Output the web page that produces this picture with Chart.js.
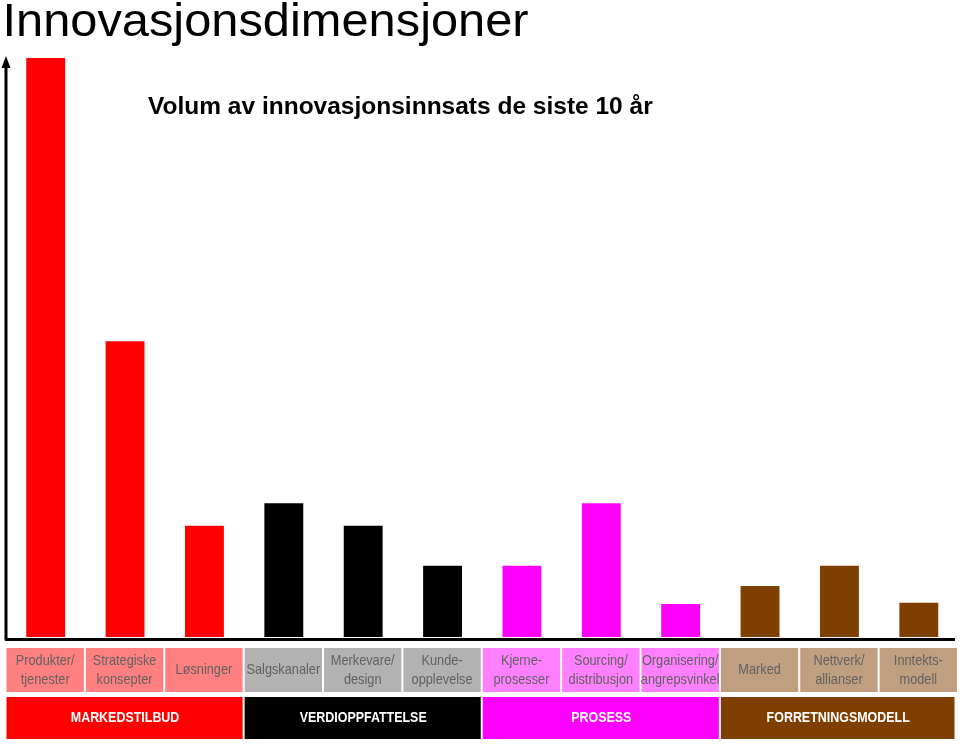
<!DOCTYPE html>
<html>
<head>
<meta charset="utf-8">
<script src="https://cdn.jsdelivr.net/npm/chart.js@4"></script>
<style>
  html, body { margin: 0; padding: 0; background: #fff; }
  #wrap { position: relative; width: 960px; height: 745px; }
</style>
</head>
<body>
<div id="wrap"><canvas id="chart" width="960" height="745"></canvas></div>
<script>
'use strict'

const title = 'Innovasjonsdimensjoner';
const subtitle = 'Volum av innovasjonsinnsats de siste 10 år';

// one entry per bar; "|" splits the label into two lines
const categories = [
    'Produkter/|tjenester', 'Strategiske|konsepter', 'Løsninger',
    'Salgskanaler', 'Merkevare/|design', 'Kunde-|opplevelse',
    'Kjerne-|prosesser', 'Sourcing/|distribusjon', 'Organisering/|angrepsvinkel',
    'Marked', 'Nettverk/|allianser', 'Inntekts-|modell'
];
const values = [100, 51.1, 19.2, 23.1, 19.2, 12.3, 12.3, 23.1, 5.7, 8.8, 12.3, 5.9];
const groupOf = [0, 0, 0, 1, 1, 1, 2, 2, 2, 3, 3, 3];

const groupNames = ['MARKEDSTILBUD', 'VERDIOPPFATTELSE', 'PROSESS', 'FORRETNINGSMODELL'];
const groupColors = ['#FF0000', '#000000', '#FF00FF', '#7F3F00'];
const boxColors = ['#FF8080', '#B2B2B2', '#FF80FF', '#BF9F80'];

// squeezed text, the reference fonts are a bit narrow
function drawText(ctx, text, x, y, font, color, sx, align) {
    ctx.save();
    ctx.font = font;
    ctx.fillStyle = color;
    ctx.textAlign = align || 'center';
    ctx.textBaseline = 'middle';
    ctx.translate(x, y);
    ctx.scale(sx, 1);
    ctx.fillText(text, 0, 0);
    ctx.restore();
}

const decorations = {
    id: 'decorations',
    afterDraw(chart) {
        const ctx = chart.ctx;
        const area = chart.chartArea;
        const xs = chart.scales.x;
        const slot = xs.getPixelForValue(1) - xs.getPixelForValue(0);

        // titles
        ctx.save();
        ctx.fillStyle = '#000';
        ctx.textBaseline = 'alphabetic';
        ctx.font = '47px "Liberation Sans", Arial, sans-serif';
        ctx.translate(2.5, 36);
        ctx.scale(1.038, 1);
        ctx.fillText(title, 0, 0);
        ctx.restore();
        ctx.save();
        ctx.fillStyle = '#000';
        ctx.textBaseline = 'alphabetic';
        ctx.font = 'bold 24.5px "Liberation Sans", Arial, sans-serif';
        ctx.fillText(subtitle, 148, 114);
        ctx.restore();

        // axes with arrow
        const ax = 6;
        const ay = area.bottom + 2.5;
        ctx.save();
        ctx.strokeStyle = '#000';
        ctx.lineWidth = 3;
        ctx.lineJoin = 'round';
        ctx.beginPath();
        ctx.moveTo(ax, area.top + 8);
        ctx.lineTo(ax, ay);
        ctx.lineTo(955, ay);
        ctx.stroke();
        ctx.fillStyle = '#000';
        ctx.beginPath();
        ctx.moveTo(ax, area.top - 2);
        ctx.lineTo(ax - 4.5, area.top + 10);
        ctx.lineTo(ax + 4.5, area.top + 10);
        ctx.closePath();
        ctx.fill();
        ctx.restore();

        // category boxes
        const boxTop = area.bottom + 11;
        const boxH = 44;
        categories.forEach((label, i) => {
            const cx = xs.getPixelForValue(i);
            ctx.fillStyle = boxColors[groupOf[i]];
            ctx.fillRect(cx - slot / 2 + 0.5, boxTop, slot - 2, boxH);
            const lines = label.split('|');
            const font = '15px "Liberation Sans", Arial, sans-serif';
            const mid = boxTop + boxH / 2;
            if (lines.length === 1) {
                drawText(ctx, lines[0], cx - 0.5, mid, font, '#626262', 0.85);
            } else {
                drawText(ctx, lines[0], cx - 0.5, mid - 9, font, '#626262', 0.85);
                drawText(ctx, lines[1], cx - 0.5, mid + 10, font, '#626262', 0.85);
            }
        });

        // group bars
        const gTop = area.bottom + 60;
        const gH = 42;
        groupNames.forEach((name, g) => {
            const idx = groupOf.map((v, i) => v === g ? i : -1).filter(i => i >= 0);
            const x0 = xs.getPixelForValue(idx[0]) - slot / 2;
            const x1 = Math.min(xs.getPixelForValue(idx[idx.length - 1]) + slot / 2, 956);
            ctx.fillStyle = groupColors[g];
            ctx.fillRect(x0 + 0.5, gTop, x1 - x0 - 2, gH);
            drawText(ctx, name, (x0 + x1) / 2, gTop + gH / 2, 'bold 15px "Liberation Sans", Arial, sans-serif', '#FFFFFF', 0.83);
        });
    }
};

new Chart(document.getElementById('chart'), {
    type: 'bar',
    data: {
        labels: categories,
        datasets: [
            {
                data: values,
                backgroundColor: groupOf.map(g => groupColors[g]),
                borderWidth: 0,
                barPercentage: 1,
                categoryPercentage: 0.49
            }
        ]
    },
    options: {
        events: [],
        responsive: false,
        animation: false,
        layout: {
            padding: { left: 6, right: 1.5, top: 58, bottom: 108 }
        },
        plugins: {
            legend: { display: false },
            tooltip: { enabled: false }
        },
        scales: {
            x: { display: false },
            y: { display: false, min: 0, max: 100 }
        }
    },
    plugins: [decorations]
});
</script>
</body>
</html>
